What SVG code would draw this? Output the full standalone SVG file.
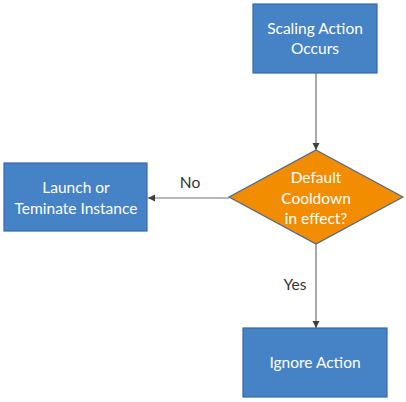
<svg xmlns="http://www.w3.org/2000/svg" width="406" height="402" viewBox="0 0 406 402">
<defs>
<marker id="arr" markerWidth="8" markerHeight="8" refX="7" refY="4" orient="auto" markerUnits="userSpaceOnUse">
<path d="M0,0.5 L7,4 L0,7.5 Z" fill="#404040"/>
</marker>
<style>
.box{fill:#4682C6;stroke:#3468A8;stroke-width:1.2}
.dia{fill:#F28C00;stroke:#4A6A8A;stroke-width:1.2}
.t{font-family:Lato,"Open Sans","Liberation Sans",sans-serif;font-size:15.5px;fill:#ffffff;text-anchor:middle}
.l{font-family:Lato,"Open Sans","Liberation Sans",sans-serif;font-size:15.5px;fill:#333333;text-anchor:middle}
.c{stroke:#707070;stroke-width:1.2;fill:none}
</style>
</defs>
<rect width="406" height="402" fill="#ffffff"/>
<g id="connectors">
<line class="c" x1="316" y1="73" x2="316" y2="150" marker-end="url(#arr)"/>
<line class="c" x1="229" y1="198" x2="148" y2="198" marker-end="url(#arr)"/>
<line class="c" x1="316" y1="244" x2="316" y2="328" marker-end="url(#arr)"/>
<text class="l" x="190" y="188">No</text>
<text class="l" x="295" y="290">Yes</text>
</g>
<g id="scaling">
<rect class="box" x="253" y="4" width="124" height="69"/>
<text class="t" x="315" y="34">Scaling Action</text>
<text class="t" x="315" y="54">Occurs</text>
</g>
<g id="cooldown">
<polygon class="dia" points="316,150 403,197 316,244 229,197"/>
<text class="t" x="316" y="183">Default</text>
<text class="t" x="316" y="204">Cooldown</text>
<text class="t" x="316" y="224">in effect?</text>
</g>
<g id="launch">
<rect class="box" x="4" y="163" width="143" height="68"/>
<text class="t" x="76" y="193">Launch or</text>
<text class="t" x="76" y="214">Teminate Instance</text>
</g>
<g id="ignore">
<rect class="box" x="243" y="328" width="144" height="69"/>
<text class="t" x="315" y="368">Ignore Action</text>
</g>
</svg>
